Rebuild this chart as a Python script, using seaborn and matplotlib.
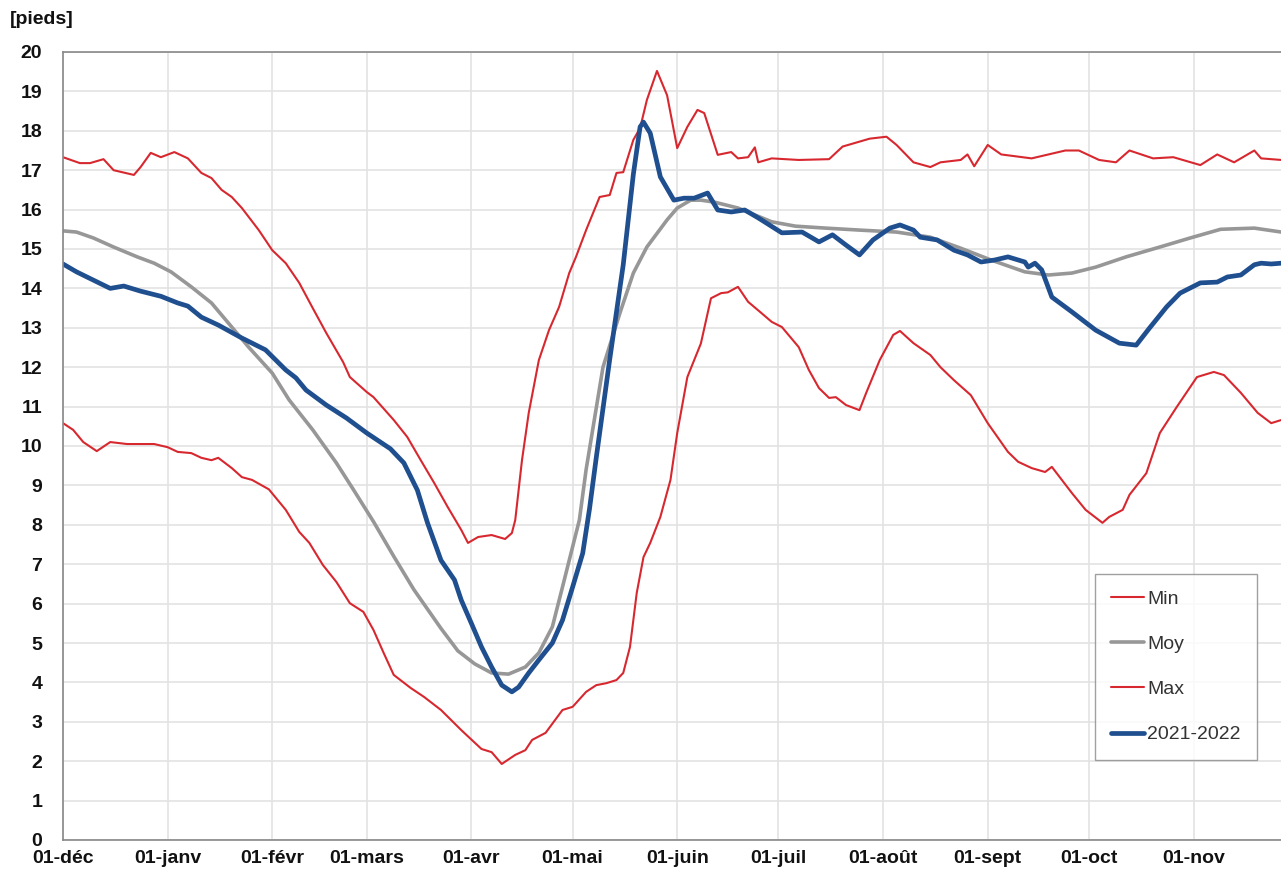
import pandas as pd
import numpy as np
import matplotlib
matplotlib.use("Agg")
import matplotlib.pyplot as plt
import seaborn as sns

start = pd.Timestamp("2021-12-01")

# Max (courbe rouge haute)
max_days = [0, 5, 8, 12, 15, 21, 23, 26, 29, 33, 37, 41, 44, 47, 50, 53, 58, 62, 66, 70,
            74, 78, 83, 85, 90, 92, 98, 102, 106, 110, 114, 118, 120, 123, 127, 131, 133, 134,
            136, 138, 141, 144, 147, 150, 152, 155, 159, 162, 164, 166, 169, 171, 173, 176,
            179, 182, 185, 188, 190, 194, 198, 200, 203, 205, 206, 210, 218, 227, 231, 235,
            239, 244, 247, 252, 257, 260, 266, 268, 270, 274, 278, 287, 297, 301, 307, 312,
            316, 323, 329, 337, 342, 347, 353, 355, 361]
max_vals = [17.33, 17.18, 17.18, 17.28, 17.0, 16.88, 17.08, 17.44, 17.33, 17.46, 17.3, 16.93,
            16.8, 16.5, 16.32, 16.04, 15.48, 14.97, 14.64, 14.14, 13.5, 12.87, 12.13, 11.75,
            11.37, 11.24, 10.66, 10.23, 9.64, 9.06, 8.45, 7.87, 7.54, 7.69, 7.74, 7.64, 7.79,
            8.12, 9.64, 10.84, 12.18, 12.94, 13.53, 14.39, 14.8, 15.48, 16.32, 16.37, 16.93,
            16.95, 17.77, 18.07, 18.78, 19.52, 18.9, 17.56, 18.1, 18.53, 18.45, 17.39, 17.46,
            17.3, 17.33, 17.58, 17.2, 17.3, 17.26, 17.28, 17.6, 17.7, 17.8, 17.85, 17.64, 17.2,
            17.08, 17.2, 17.26, 17.4, 17.1, 17.64, 17.4, 17.3, 17.5, 17.5, 17.26, 17.2, 17.5,
            17.3, 17.33, 17.13, 17.4, 17.2, 17.5, 17.3, 17.26]

# Min (courbe rouge basse)
min_days = [0, 3, 6, 10, 14, 19, 27, 31, 34, 38, 41, 44, 46, 50, 53, 56, 61, 66, 70, 73,
            77, 81, 85, 89, 92, 95, 98, 103, 107, 112, 118, 124, 127, 130, 134, 137, 139, 143,
            148, 151, 155, 158, 161, 164, 166, 168, 170, 172, 174, 177, 180, 182, 185, 189,
            192, 195, 197, 200, 203, 207, 210, 213, 218, 221, 224, 227, 229, 232, 236, 238,
            242, 246, 248, 252, 257, 260, 264, 269, 274, 280, 283, 287, 291, 293, 299, 303,
            308, 310, 314, 316, 321, 325, 330, 336, 341, 344, 349, 354, 358, 361]
min_vals = [10.58, 10.41, 10.1, 9.87, 10.1, 10.05, 10.05, 9.97, 9.85, 9.82, 9.7, 9.64, 9.7,
            9.44, 9.21, 9.14, 8.9, 8.38, 7.82, 7.54, 6.98, 6.55, 6.01, 5.79, 5.33, 4.75, 4.19,
            3.86, 3.63, 3.3, 2.79, 2.31, 2.23, 1.93, 2.16, 2.28, 2.54, 2.72, 3.3, 3.38, 3.76,
            3.93, 3.98, 4.06, 4.24, 4.9, 6.27, 7.18, 7.54, 8.2, 9.14, 10.33, 11.75, 12.6, 13.75,
            13.88, 13.9, 14.04, 13.66, 13.37, 13.15, 13.02, 12.51, 11.93, 11.47, 11.22, 11.24,
            11.04, 10.91, 11.35, 12.18, 12.82, 12.92, 12.61, 12.31, 12.0, 11.67, 11.29, 10.58,
            9.85, 9.6, 9.44, 9.34, 9.47, 8.8, 8.38, 8.05, 8.2, 8.38, 8.76, 9.31, 10.33, 10.99,
            11.75, 11.88, 11.8, 11.35, 10.84, 10.58, 10.66]

# Moyenne
moy_days = [0, 4, 9, 15, 22, 27, 32, 38, 44, 50, 55, 62, 67, 74, 81, 86, 92, 98, 104, 112,
            117, 122, 127, 132, 137, 141, 145, 148, 151, 153, 155, 160, 165, 169, 173, 179,
            182, 186, 189, 193, 200, 210, 217, 226, 236, 247, 257, 266, 275, 285, 292, 299,
            306, 315, 325, 334, 343, 353, 361]
moy_vals = [15.46, 15.43, 15.28, 15.05, 14.8, 14.64, 14.42, 14.04, 13.63, 13.02, 12.51, 11.85,
            11.17, 10.41, 9.57, 8.9, 8.08, 7.2, 6.35, 5.37, 4.8, 4.47, 4.24, 4.21, 4.39, 4.75,
            5.41, 6.42, 7.44, 8.12, 9.4, 12.0, 13.37, 14.39, 15.05, 15.74, 16.04, 16.24, 16.24,
            16.19, 16.04, 15.69, 15.58, 15.53, 15.48, 15.43, 15.3, 15.02, 14.72, 14.42, 14.34,
            14.39, 14.54, 14.8, 15.05, 15.28, 15.5, 15.53, 15.43]

# Année 2021-2022
cur_days = [0, 4, 9, 14, 18, 23, 29, 34, 37, 41, 46, 53, 60, 66, 69, 72, 78, 84, 90, 97,
            101, 105, 108, 112, 116, 118, 121, 124, 127, 130, 133, 135, 138, 141, 145, 148,
            151, 154, 156, 158, 162, 166, 169, 171, 172, 174, 177, 181, 184, 187, 191, 194,
            198, 202, 206, 213, 219, 224, 228, 232, 236, 240, 245, 248, 252, 254, 259, 264,
            268, 272, 276, 280, 285, 286, 288, 290, 293, 299, 306, 313, 318, 322, 327, 331,
            337, 342, 345, 349, 353, 355, 358, 361]
cur_vals = [14.62, 14.42, 14.21, 14.0, 14.06, 13.93, 13.8, 13.63, 13.55, 13.27, 13.07, 12.74,
            12.44, 11.93, 11.73, 11.42, 11.04, 10.71, 10.33, 9.93, 9.57, 8.88, 8.05, 7.1, 6.6,
            6.09, 5.5, 4.9, 4.39, 3.93, 3.76, 3.88, 4.24, 4.57, 5.0, 5.58, 6.42, 7.28, 8.4,
            9.7, 12.2, 14.6, 16.9, 18.1, 18.22, 17.94, 16.83, 16.24, 16.29, 16.29, 16.42,
            15.99, 15.94, 15.99, 15.79, 15.41, 15.43, 15.18, 15.36, 15.1, 14.85, 15.23, 15.53,
            15.61, 15.48, 15.3, 15.23, 14.97, 14.85, 14.67, 14.72, 14.8, 14.67, 14.54, 14.64,
            14.47, 13.78, 13.4, 12.94, 12.61, 12.56, 13.0, 13.53, 13.88, 14.14, 14.16, 14.29,
            14.34, 14.6, 14.64, 14.62, 14.64]

month_labels = ["01-déc", "01-janv", "01-févr", "01-mars", "01-avr", "01-mai", "01-juin",
                "01-juil", "01-août", "01-sept", "01-oct", "01-nov"]


def to_dates(days):
    return start + pd.to_timedelta(days, unit="D")


sns.set_style("whitegrid")
plt.rcParams["font.family"] = ["Liberation Sans", "DejaVu Sans"]

fig = plt.figure(figsize=(12.81, 8.69), dpi=100)
ax = fig.add_axes([63 / 1281, 29 / 869, 1 - 63 / 1281, 788 / 869])

red = "#d7282f"
sns.lineplot(x=to_dates(min_days), y=min_vals, ax=ax, color=red, lw=1.5, label="Min")
sns.lineplot(x=to_dates(moy_days), y=moy_vals, ax=ax, color="#979797", lw=2.6, label="Moy")
sns.lineplot(x=to_dates(max_days), y=max_vals, ax=ax, color=red, lw=1.5, label="Max")
sns.lineplot(x=to_dates(cur_days), y=cur_vals, ax=ax, color="#1f4f8f", lw=3.4, label="2021-2022")

ax.set_xlim(start, start + pd.Timedelta(days=360.9))
ax.set_ylim(0, 20)
ax.set_yticks(range(0, 21))
ticks = pd.date_range(start, periods=12, freq="MS")
ax.set_xticks(ticks)
ax.set_xticklabels(month_labels)

ax.grid(True, color="#e3e3e3", lw=1.2)
for side in ["left", "bottom", "top"]:
    ax.spines[side].set_visible(True)
    ax.spines[side].set_color("#888888")
    ax.spines[side].set_linewidth(1.2)
ax.spines["right"].set_visible(False)
ax.tick_params(axis="both", labelsize=14, colors="#111111", length=5, width=1,
               direction="out")
ax.tick_params(axis="x", color="#888888", pad=2)
ax.tick_params(axis="y", color="#888888", pad=10)
for lbl in ax.get_xticklabels() + ax.get_yticklabels():
    lbl.set_fontweight("bold")
ax.set_xlabel("")
ax.set_ylabel("")

fig.text(10 / 1281, 1 - 20 / 869, "[pieds]", fontsize=14, fontweight="bold",
         va="center", ha="left", color="#111111")

leg = ax.legend(loc="upper left", bbox_to_anchor=(0.847, 0.338), frameon=True,
                fancybox=False, fontsize=14, labelspacing=1.42, handlelength=1.7,
                handletextpad=0.15, borderpad=0.85, borderaxespad=0)
leg.get_frame().set_edgecolor("#888888")
leg.get_frame().set_linewidth(1.0)
for t in leg.get_texts():
    t.set_color("#333333")

fig.savefig("out.png", dpi=100)
